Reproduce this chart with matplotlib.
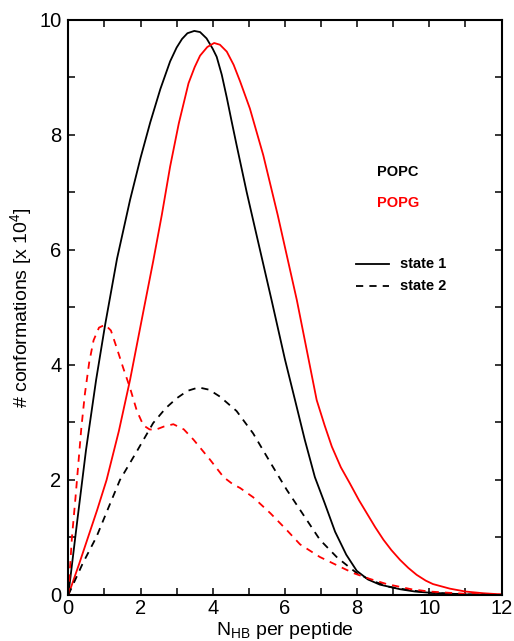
import matplotlib
matplotlib.use("Agg")
import matplotlib.pyplot as plt
import numpy as np

plt.rcParams['font.family'] = ['Liberation Sans', 'DejaVu Sans']
plt.rcParams['mathtext.fontset'] = 'custom'
plt.rcParams['mathtext.rm'] = 'Liberation Sans'

# POPC, state 1 (black solid)
popc1_x = [0, 0.25, 0.49, 0.77, 1.02, 1.35, 1.71, 2.0, 2.27, 2.55, 2.82, 3.0, 3.15, 3.3,
           3.49, 3.65, 3.83, 4.0, 4.11, 4.25, 4.39, 4.52, 4.66, 4.8, 4.94, 5.2, 5.63,
           6.0, 6.28, 6.55, 6.83, 7.1, 7.39, 7.7, 7.99, 8.3, 8.63, 9.19, 9.6, 10, 11, 12]
popc1_y = [0, 1.3, 2.52, 3.74, 4.7, 5.85, 6.87, 7.6, 8.22, 8.8, 9.28, 9.52, 9.67, 9.77,
           9.81, 9.79, 9.68, 9.5, 9.36, 9.05, 8.65, 8.25, 7.83, 7.42, 7.01, 6.3, 5.13,
           4.1, 3.39, 2.7, 2.05, 1.6, 1.1, 0.7, 0.42, 0.27, 0.18, 0.1, 0.06, 0.04, 0.01, 0]

# POPG, state 1 (red solid)
popg1_x = [0, 0.3, 0.55, 0.8, 1.06, 1.4, 1.71, 2.1, 2.35, 2.59, 2.82, 3.06, 3.33, 3.5,
           3.65, 3.85, 4.04, 4.2, 4.39, 4.58, 4.76, 5.03, 5.4, 5.8, 6.33, 6.88, 7.1,
           7.3, 7.55, 7.8, 8.05, 8.27, 8.5, 8.73, 8.95, 9.19, 9.42, 9.65, 9.9, 10.1,
           10.57, 11.0, 11.5, 12]
popg1_y = [0, 0.54, 1.01, 1.48, 2.0, 2.85, 3.74, 5.0, 5.8, 6.61, 7.45, 8.2, 8.9, 9.18,
           9.38, 9.53, 9.6, 9.57, 9.45, 9.22, 8.93, 8.46, 7.65, 6.61, 5.13, 3.39, 2.95,
           2.58, 2.22, 1.94, 1.65, 1.42, 1.18, 0.96, 0.78, 0.61, 0.47, 0.35, 0.25, 0.19,
           0.11, 0.06, 0.03, 0.01]

# POPC, state 2 (black dashed)
popc2_x = [0, 0.4, 0.78, 1.1, 1.43, 1.9, 2.35, 2.7, 3.0, 3.3, 3.61, 3.9, 4.2, 4.66, 5.12,
           5.6, 6.05, 6.42, 6.97, 7.45, 7.99, 8.4, 8.9, 9.5, 10, 11, 12]
popc2_y = [0, 0.55, 1.01, 1.5, 2.0, 2.5, 2.99, 3.25, 3.42, 3.55, 3.61, 3.57, 3.45, 3.2, 2.81,
           2.3, 1.83, 1.48, 0.96, 0.65, 0.38, 0.25, 0.14, 0.08, 0.04, 0.01, 0]

# POPG, state 2 (red dashed)
popg2_x = [0, 0.1, 0.2, 0.28, 0.36, 0.46, 0.58, 0.7, 0.85, 1.02, 1.18, 1.34, 1.52, 1.71,
           1.9, 2.08, 2.25, 2.4, 2.65, 2.91, 3.2, 3.47, 3.93, 4.3, 4.55, 4.76, 5.12, 5.6,
           6.05, 6.42, 6.97, 7.53, 7.9, 8.35, 8.82, 9.5, 10, 11, 12]
popg2_y = [0, 1.0, 1.7, 2.3, 2.9, 3.5, 4.05, 4.43, 4.65, 4.7, 4.6, 4.3, 3.95, 3.6,
           3.2, 2.95, 2.88, 2.87, 2.93, 2.97, 2.88, 2.7, 2.35, 2.05, 1.93, 1.86, 1.7, 1.42,
           1.13, 0.88, 0.66, 0.49, 0.38, 0.28, 0.19, 0.1, 0.06, 0.02, 0.005]

dash = (0, (4.0, 3.4))
lw = 1.3

fig = plt.figure(figsize=(5.14, 6.41), dpi=100)
ax = fig.add_axes([0.1329, 0.0718, 0.8428, 0.897])

ax.plot(popc1_x, popc1_y, color='black', lw=lw)
ax.plot(popg1_x, popg1_y, color='red', lw=lw)
ax.plot(popc2_x, popc2_y, color='black', lw=lw, linestyle=dash)
ax.plot(popg2_x, popg2_y, color='red', lw=lw, linestyle=dash)

ax.set_xlim(0, 12)
ax.set_ylim(0, 10)
ax.set_xticks(np.arange(0, 13, 2))
ax.set_yticks(np.arange(0, 11, 2))
ax.set_xticks(np.arange(0, 13, 1), minor=True)
ax.set_yticks(np.arange(0, 11, 1), minor=True)
ax.tick_params(which='both', direction='in', top=True, right=True,
               length=5, width=1.1, labelsize=14.5)
ax.tick_params(axis='x', pad=3)
ax.tick_params(axis='y', pad=5)
for s in ax.spines.values():
    s.set_linewidth(1.5)

ax.set_xlabel(r'N$_{\mathrm{HB}}$ per peptide', fontsize=14, labelpad=1)
ax.set_ylabel(r'# conformations [x 10$^{4}$]', fontsize=14, labelpad=3)

# in-plot legend
ax.text(8.55, 7.36, 'POPC', color='black', fontsize=10.5, fontweight='bold', va='center')
ax.text(8.55, 6.82, 'POPG', color='red', fontsize=10.5, fontweight='bold', va='center')
ax.plot([7.97, 8.88], [5.76, 5.76], color='black', lw=lw)
ax.plot([7.97, 8.88], [5.37, 5.37], color='black', lw=lw, linestyle=dash)
ax.text(9.19, 5.76, 'state 1', fontsize=10.5, fontweight='bold', va='center')
ax.text(9.19, 5.37, 'state 2', fontsize=10.5, fontweight='bold', va='center')

fig.savefig('out.png', dpi=100)
